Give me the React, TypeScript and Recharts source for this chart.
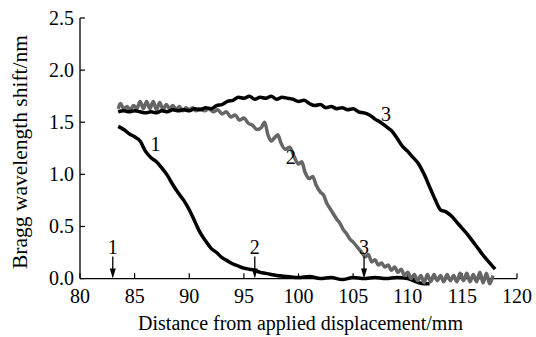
import React from "react";
import { ComposedChart, Line, XAxis, YAxis, ReferenceLine, Scatter } from "recharts";

const FONT = '"Liberation Serif", "Times New Roman", serif';

const xTicks = [80, 85, 90, 95, 100, 105, 110, 115, 120];
const yTicks = [0, 0.5, 1.0, 1.5, 2.0, 2.5];

// curve 1: distance (mm), shift (nm)
const curve1: [number, number][] = [
  [83.5, 1.46], [84, 1.43], [84.5, 1.39], [85, 1.36], [85.5, 1.32], [86, 1.22],
  [86.5, 1.16], [87, 1.12], [87.5, 1.06], [88, 0.99], [88.5, 0.9], [89, 0.82],
  [89.5, 0.75], [90, 0.66], [90.5, 0.55], [91, 0.44], [91.5, 0.36], [92, 0.29],
  [92.5, 0.25], [93, 0.2], [93.5, 0.17], [94, 0.14], [94.5, 0.12], [95, 0.1],
  [95.5, 0.09], [96, 0.08], [96.5, 0.06], [97, 0.05], [97.5, 0.04], [98, 0.03],
  [99, 0.02], [100, 0.01], [101, 0.02], [102, 0.0], [103, 0.01], [104, -0.01],
  [105, 0.01], [106, 0.0], [107, 0.01], [108, 0.0], [109, 0.01], [110, 0.0],
  [110.5, -0.02], [111, -0.04], [111.5, -0.05], [112, -0.05],
];

// curve 2 (grey, noisy)
const curve2: [number, number][] = [
  [83.5, 1.63], [83.7, 1.68], [84.0, 1.63], [84.3, 1.65], [84.6, 1.62], [84.9, 1.66],
  [85.2, 1.63], [85.5, 1.7], [85.8, 1.63], [86.1, 1.7], [86.4, 1.63], [86.7, 1.7],
  [87.0, 1.62], [87.3, 1.69], [87.6, 1.62], [87.9, 1.67], [88.2, 1.63], [88.5, 1.66],
  [88.8, 1.62], [89.1, 1.65], [89.4, 1.61], [89.7, 1.64], [90.0, 1.62], [90.3, 1.64],
  [90.6, 1.61], [91.0, 1.63], [91.4, 1.61], [91.8, 1.63], [92.2, 1.6], [92.6, 1.62],
  [93.0, 1.58], [93.4, 1.6], [93.8, 1.55], [94.2, 1.57], [94.6, 1.52], [95.0, 1.54],
  [95.4, 1.49], [95.8, 1.47], [96.2, 1.43], [96.6, 1.45], [96.9, 1.5], [97.2, 1.38],
  [97.5, 1.32], [97.8, 1.35], [98.1, 1.38], [98.4, 1.3], [98.8, 1.24], [99.2, 1.26],
  [99.6, 1.17], [100.0, 1.1], [100.3, 1.12], [100.6, 1.02], [101.0, 0.96], [101.3, 0.98],
  [101.6, 0.9], [102.0, 0.83], [102.3, 0.8], [102.6, 0.72], [102.9, 0.67], [103.2, 0.62],
  [103.5, 0.57], [103.8, 0.53], [104.1, 0.47], [104.4, 0.43], [104.7, 0.38], [105.0, 0.35],
  [105.4, 0.3], [105.8, 0.25], [106.1, 0.21], [106.4, 0.23], [106.7, 0.16], [107.0, 0.18],
  [107.3, 0.13], [107.6, 0.15], [107.9, 0.11], [108.2, 0.13], [108.5, 0.08], [108.8, 0.11],
  [109.1, 0.06], [109.4, 0.09], [109.7, 0.03], [110.0, 0.06], [110.3, 0.0], [110.6, 0.04],
  [110.9, -0.02], [111.2, 0.03], [111.5, -0.04], [111.8, 0.04], [112.1, -0.03], [112.4, 0.04],
  [112.7, -0.02], [113.0, 0.03], [113.3, -0.03], [113.6, 0.04], [113.9, -0.02], [114.2, 0.03],
  [114.5, -0.03], [114.8, 0.05], [115.1, -0.02], [115.4, 0.05], [115.7, -0.03], [116.0, 0.04],
  [116.3, -0.03], [116.6, 0.06], [116.9, -0.04], [117.2, 0.05], [117.5, -0.05], [117.8, 0.03],
];

// curve 3
const curve3: [number, number][] = [
  [83.5, 1.6], [84, 1.61], [84.5, 1.6], [85, 1.61], [85.5, 1.6], [86, 1.59],
  [86.5, 1.6], [87, 1.59], [87.5, 1.61], [88, 1.6], [88.5, 1.62], [89, 1.61],
  [89.5, 1.62], [90, 1.61], [90.5, 1.63], [91, 1.62], [91.5, 1.64], [92, 1.63],
  [92.5, 1.66], [93, 1.67], [93.5, 1.7], [94, 1.71], [94.5, 1.74], [95, 1.73],
  [95.5, 1.75], [96, 1.72], [96.5, 1.74], [97, 1.73], [97.5, 1.75], [98, 1.72],
  [98.5, 1.74], [99, 1.73], [99.5, 1.72], [100, 1.7], [100.5, 1.71], [101, 1.68],
  [101.5, 1.66], [102, 1.67], [102.5, 1.64], [103, 1.65], [103.5, 1.63], [104, 1.64],
  [104.5, 1.62], [105, 1.63], [105.5, 1.6], [106, 1.59], [106.5, 1.57], [107, 1.53],
  [107.5, 1.5], [108, 1.46], [108.5, 1.42], [109, 1.35], [109.5, 1.27], [110, 1.22],
  [110.5, 1.16], [111, 1.1], [111.5, 1.0], [112, 0.88], [112.5, 0.76], [113, 0.66],
  [113.5, 0.64], [114, 0.6], [114.5, 0.54], [115, 0.48], [115.5, 0.42], [116, 0.35],
  [116.5, 0.28], [117, 0.21], [117.5, 0.15], [118, 0.09],
];

const curveLabels = [
  { x: 86.9, y: 1.29, text: "1" },
  { x: 99.3, y: 1.16, text: "2" },
  { x: 108.0, y: 1.58, text: "3" },
];

const markers = [
  { x: 83, y: 0, text: "1" },
  { x: 96, y: 0, text: "2" },
  { x: 106, y: 0, text: "3" },
];

const toRows = (pts: [number, number][]) => pts.map(([x, y]) => ({ x, y }));

function XTick({ x, y, payload }: any) {
  return (
    <text x={x} y={y + 13.5} textAnchor="middle" fontFamily={FONT} fontSize={20} fill="#000">
      {payload.value}
    </text>
  );
}

function YTick({ x, y, payload }: any) {
  return (
    <g>
      <line x1={x} x2={x + 5} y1={y} y2={y} stroke="#000" strokeWidth={1.2} />
      <text x={x - 6} y={y + 6.7} textAnchor="end" fontFamily={FONT} fontSize={20} fill="#000">
        {Number(payload.value).toFixed(1)}
      </text>
    </g>
  );
}

function CurveLabel({ cx, cy, payload }: any) {
  return (
    <text x={cx} y={cy + 6.7} textAnchor="middle" fontFamily={FONT} fontSize={20} fill="#000">
      {payload.text}
    </text>
  );
}

function Marker({ cx, cy, payload }: any) {
  return (
    <g>
      <line x1={cx} x2={cx} y1={cy - 22} y2={cy - 6} stroke="#000" strokeWidth={1.3} />
      <path d={`M${cx - 3},${cy - 10} L${cx + 3},${cy - 10} L${cx},${cy} Z`} fill="#000" />
      <text x={cx} y={cy - 25} textAnchor="middle" fontFamily={FONT} fontSize={20} fill="#000">
        {payload.text}
      </text>
    </g>
  );
}

export default function App() {
  return (
    <div style={{ position: "absolute", left: 0, top: 0, background: "#fff" }}>
      <ComposedChart width={536} height={337} margin={{ top: 18, right: 19, bottom: 0, left: 0 }}>
        <XAxis type="number" dataKey="x" domain={[80, 120]} ticks={xTicks} axisLine={false}
          tickLine={false} tickSize={0} tickMargin={0} tick={<XTick />} height={48}
          label={{ content: ({ viewBox }: any) => (
            <text x={viewBox.x + viewBox.width / 2 + 2} y={330} textAnchor="middle"
              fontFamily={FONT} fontSize={20} fill="#000">
              Distance from applied displacement/mm
            </text>
          ) }} />
        <YAxis type="number" dataKey="y" domain={[-0.1, 2.5]} ticks={yTicks} axisLine={false}
          tickLine={false} tickSize={0} tickMargin={0} tick={<YTick />} width={80}
          label={{ content: ({ viewBox }: any) => (
            <text x={0} y={0} transform={`translate(${viewBox.x + 27},${viewBox.y + viewBox.height / 2 - 1.5}) rotate(-90)`}
              textAnchor="middle" fontFamily={FONT} fontSize={21.5} fill="#000">
              Bragg wavelength shift/nm
            </text>
          ) }} />
        <ReferenceLine segment={[{ x: 80, y: 0 }, { x: 80, y: 2.5 }]} stroke="#000" strokeWidth={1.3} />
        <ReferenceLine y={0} stroke="#000" strokeWidth={1.3} />
        {xTicks.map((t) => (
          <ReferenceLine key={t} segment={[{ x: t, y: 0 }, { x: t, y: 0.05 }]} stroke="#000" strokeWidth={1.2} />
        ))}
        <Line data={toRows(curve1)} dataKey="y" stroke="#000" strokeWidth={3.5} dot={false}
          isAnimationActive={false} type="monotone" />
        <Line data={toRows(curve2)} dataKey="y" stroke="#666" strokeWidth={3.5} dot={false}
          isAnimationActive={false} type="monotone" />
        <Line data={toRows(curve3)} dataKey="y" stroke="#000" strokeWidth={3.5} dot={false}
          isAnimationActive={false} type="monotone" />
        <Scatter data={curveLabels} dataKey="y" shape={<CurveLabel />} isAnimationActive={false} />
        <Scatter data={markers} dataKey="y" shape={<Marker />} isAnimationActive={false} />
      </ComposedChart>
    </div>
  );
}
